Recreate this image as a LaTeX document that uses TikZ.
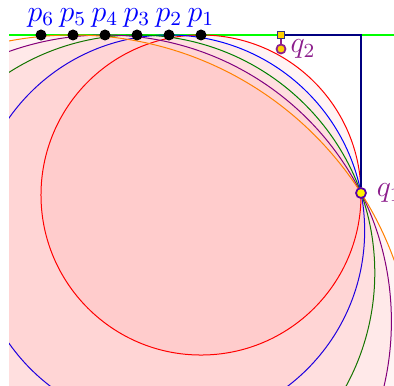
\documentclass[tikz,border=0pt]{standalone}
\usetikzlibrary{arrows.meta,positioning,calc}
\definecolor{navyline}{RGB}{0,0,128}
\definecolor{markgold}{RGB}{255,208,0}
\definecolor{qviolet}{RGB}{140,30,140}

\begin{document}
\begin{tikzpicture}[x=4pt,y=4pt,
  pdot/.style={circle,fill=black,inner sep=0pt,minimum size=4.4pt,
    label={[blue,font=\large,inner sep=0.5pt,label distance=0pt]above:$p_{#1}$}},
  qdot/.style={circle,draw=qviolet,fill=markgold,inner sep=0pt,minimum size=3.6pt,line width=0.7pt},
  sqmark/.style={rectangle,draw=navyline!60!gray,fill=markgold,inner sep=0pt,minimum size=2.8pt,line width=0.5pt}]
\useasboundingbox (0,3.5) rectangle (39.4,-35.1);
\coordinate (gl) at (0.9,0);
\coordinate (gr) at (39.4,0);
\coordinate (c) at (36.1,0);
\foreach \i in {1,...,6} \coordinate (p\i) at ({20.1-3.2*(\i-1)},0);
\begin{scope}
  \clip (gl) rectangle (39.4,-35.1);
  \draw[green,line width=0.6pt] (gl) -- (gr);
  % circles tangent to the line at p_i and through q_1
  \foreach \i/\c in {1/red,2/blue,3/green!50!black,4/violet,5/orange} {
    \pgfmathsetmacro\r{((16+3.2*(\i-1))^2+15.8^2)/31.6}
    \draw[\c,fill=red,fill opacity=0.045] (p\i) ++(0,-\r) circle[radius=\r];
  }
\end{scope}
\node[sqmark] (s) at (28.1,0) {};
\node[qdot,label={[qviolet,font=\large,inner sep=1.5pt]right:$q_2$}] (q2) at (28.1,-1.4) {};
\node[qdot,fill=yellow,draw=violet!70!blue,minimum size=4pt,
  label={[qviolet,font=\large,label distance=0.5pt]right:$q_1$}] (q1) at (36.1,-15.8) {};
\draw[navyline,line width=0.5pt] (s) -- (c) -- (q1);
\draw[qviolet,line width=0.5pt] (s) -- (q2);
\foreach \i in {1,...,6} \node[pdot=\i] (d\i) at (p\i) {};
\end{tikzpicture}
\end{document}
